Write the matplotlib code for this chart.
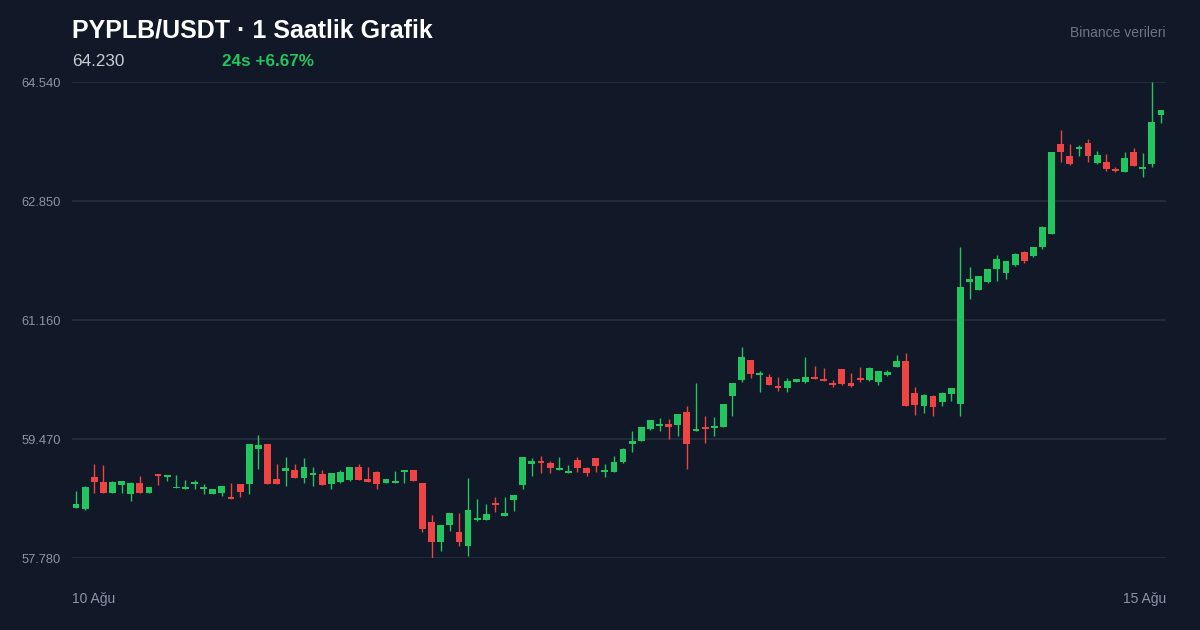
import numpy as np
import matplotlib
matplotlib.use("Agg")
import matplotlib.pyplot as plt

# 1h candles, 10 Ağu -> 15 Ağu
opens = [58.49, 58.48, 58.93, 58.86, 58.70, 58.82, 58.69, 58.85, 58.70, 58.97,
         58.93, 58.77, 58.76, 58.83, 58.76, 58.69, 58.70, 58.63, 58.83, 58.83,
         59.33, 59.40, 58.90, 59.02, 59.03, 58.92, 58.96, 58.97, 58.83, 58.86,
         58.89, 59.07, 58.90, 59.00, 58.85, 58.85, 59.00, 59.03, 58.85, 58.29,
         58.01, 58.25, 58.15, 57.95, 58.32, 58.32, 58.56, 58.38, 58.60, 58.82,
         59.12, 59.16, 59.13, 59.03, 58.99, 59.17, 59.06, 59.20, 59.00, 59.00,
         59.14, 59.40, 59.44, 59.61, 59.66, 59.68, 59.67, 59.85, 59.58, 59.64,
         59.63, 59.64, 60.08, 60.31, 60.59, 60.38, 60.35, 60.22, 60.19, 60.28,
         60.28, 60.35, 60.32, 60.27, 60.46, 60.27, 60.34, 60.31, 60.28, 60.38,
         60.49, 60.58, 60.12, 59.94, 60.08, 60.00, 60.11, 59.97, 61.70, 61.59,
         61.70, 61.88, 61.83, 61.94, 62.13, 62.07, 62.20, 62.38, 63.66, 63.49,
         63.59, 63.67, 63.39, 63.40, 63.29, 63.26, 63.55, 63.31, 63.38, 64.07]
closes = [58.55, 58.79, 58.86, 58.70, 58.86, 58.87, 58.85, 58.70, 58.79, 58.95,
          58.96, 58.79, 58.77, 58.86, 58.77, 58.76, 58.80, 58.62, 58.72, 59.40,
          59.39, 58.83, 58.83, 59.06, 58.92, 59.07, 58.99, 58.82, 58.99, 59.00,
          59.07, 58.89, 58.86, 58.83, 58.90, 58.86, 59.02, 58.87, 58.19, 58.01,
          58.25, 58.42, 58.01, 58.46, 58.35, 58.41, 58.53, 58.42, 58.68, 59.21,
          59.16, 59.13, 59.06, 59.06, 59.00, 59.06, 58.99, 59.09, 59.03, 59.14,
          59.33, 59.44, 59.64, 59.74, 59.68, 59.64, 59.83, 59.40, 59.60, 59.61,
          59.66, 59.97, 60.27, 60.64, 60.39, 60.41, 60.24, 60.19, 60.29, 60.32,
          60.35, 60.32, 60.29, 60.24, 60.25, 60.22, 60.31, 60.48, 60.44, 60.42,
          60.58, 59.94, 59.95, 60.10, 59.92, 60.12, 60.19, 61.63, 61.74, 61.79,
          61.88, 62.03, 62.00, 62.10, 62.00, 62.20, 62.48, 63.55, 63.55, 63.38,
          63.62, 63.49, 63.50, 63.31, 63.28, 63.46, 63.35, 63.33, 63.97, 64.14]
highs = [58.73, 58.80, 59.12, 59.10, 58.87, 58.87, 58.86, 58.95, 58.79, 58.97,
         58.96, 58.96, 58.89, 58.89, 58.83, 58.76, 58.80, 58.85, 58.83, 59.40,
         59.52, 59.40, 59.12, 59.21, 59.12, 59.20, 59.07, 59.03, 58.99, 59.03,
         59.07, 59.12, 59.07, 59.02, 58.90, 59.02, 59.02, 59.03, 58.85, 58.39,
         58.25, 58.42, 58.42, 58.92, 58.62, 58.55, 58.65, 58.65, 58.68, 59.21,
         59.20, 59.23, 59.16, 59.21, 59.10, 59.21, 59.07, 59.20, 59.12, 59.23,
         59.34, 59.58, 59.64, 59.74, 59.77, 59.75, 59.83, 59.94, 60.27, 59.80,
         59.78, 59.97, 60.27, 60.78, 60.59, 60.44, 60.39, 60.35, 60.34, 60.32,
         60.64, 60.51, 60.48, 60.31, 60.46, 60.41, 60.49, 60.49, 60.44, 60.45,
         60.66, 60.69, 60.21, 60.11, 60.10, 60.14, 60.19, 62.20, 61.91, 61.79,
         61.88, 62.08, 62.00, 62.11, 62.14, 62.20, 62.50, 63.55, 63.86, 63.66,
         63.65, 63.73, 63.56, 63.52, 63.33, 63.55, 63.60, 63.53, 64.54, 64.14]
lows = [58.49, 58.46, 58.70, 58.70, 58.70, 58.70, 58.59, 58.70, 58.70, 58.82,
        58.87, 58.77, 58.76, 58.76, 58.69, 58.69, 58.66, 58.62, 58.65, 58.69,
        59.04, 58.83, 58.83, 58.80, 58.92, 58.85, 58.80, 58.82, 58.76, 58.85,
        58.87, 58.89, 58.86, 58.76, 58.85, 58.85, 58.85, 58.87, 58.15, 57.78,
        57.88, 58.16, 57.95, 57.81, 58.31, 58.32, 58.43, 58.38, 58.45, 58.76,
        58.95, 58.99, 58.99, 59.03, 58.99, 59.00, 58.95, 59.00, 58.93, 59.00,
        59.13, 59.29, 59.44, 59.60, 59.58, 59.47, 59.51, 59.04, 59.58, 59.41,
        59.51, 59.64, 59.80, 60.28, 60.34, 60.14, 60.24, 60.15, 60.14, 60.28,
        60.27, 60.32, 60.29, 60.21, 60.24, 60.21, 60.28, 60.29, 60.24, 60.37,
        60.49, 59.94, 59.81, 59.84, 59.80, 59.94, 60.01, 59.80, 61.46, 61.59,
        61.69, 61.71, 61.74, 61.93, 61.97, 62.06, 62.17, 62.38, 63.40, 63.36,
        63.49, 63.40, 63.38, 63.28, 63.26, 63.26, 63.35, 63.19, 63.33, 63.96]

y_ticks = [57.780, 59.470, 61.160, 62.850, 64.540]
x_labels = ["10 Ağu", "15 Ağu"]
title = "PYPLB/USDT · 1 Saatlik Grafik"
last_price = "64.230"
change_txt = "24s +6.67%"
source_txt = "Binance verileri"

BG = "#111827"
GREEN = "#22c55e"
RED = "#ef4444"
GRID = "#263042"

plt.rcParams['font.family'] = ['Liberation Sans', 'DejaVu Sans']

fig = plt.figure(figsize=(12, 6.3), dpi=100, facecolor=BG)
ax = fig.add_axes([72/1200, 72/630, 1094/1200, 476/630])
ax.set_facecolor(BG)

o = np.array(opens)
c = np.array(closes)
h = np.array(highs)
l = np.array(lows)
idx = np.arange(len(o))
cols = np.where(c >= o, GREEN, RED)

ax.vlines(idx, l, h, colors=cols, linewidth=1.0, zorder=2)
body_lo = np.minimum(o, c)
body_h = np.maximum(np.abs(c - o), 0.025)
ax.bar(idx, body_h, bottom=body_lo, width=0.75, color=cols, linewidth=0, zorder=3)

ax.set_xlim(-0.44, len(o) - 1 + 0.55)
ax.set_ylim(y_ticks[0], y_ticks[-1])
ax.set_yticks(y_ticks)
ax.set_yticklabels(["%.3f" % v for v in y_ticks])
ax.set_xticks([])
ax.tick_params(axis='y', length=0, pad=8, labelsize=9.3, labelcolor="#8b95a7")
ax.grid(axis='y', color=GRID, linewidth=1.2)
ax.set_axisbelow(True)
for s in ax.spines.values():
    s.set_visible(False)

fig.text(72/1200, 1 - 30/630, title, color="white", fontsize=18,
         fontweight="bold", va="center", ha="left")
fig.text(72/1200, 1 - 61/630, last_price, color="#c9ced6", fontsize=12.3,
         va="center", ha="left")
fig.text(222/1200, 1 - 61/630, change_txt, color=GREEN, fontsize=12.3,
         fontweight="bold", va="center", ha="left")
fig.text(1166/1200, 1 - 33/630, source_txt, color="#6b7587", fontsize=10,
         va="center", ha="right")
fig.text(72/1200, 1 - 599/630, x_labels[0], color="#8b95a7", fontsize=10,
         va="center", ha="left")
fig.text(1166/1200, 1 - 599/630, x_labels[1], color="#8b95a7", fontsize=10,
         va="center", ha="right")

fig.savefig("out.png", dpi=100, facecolor=BG)
